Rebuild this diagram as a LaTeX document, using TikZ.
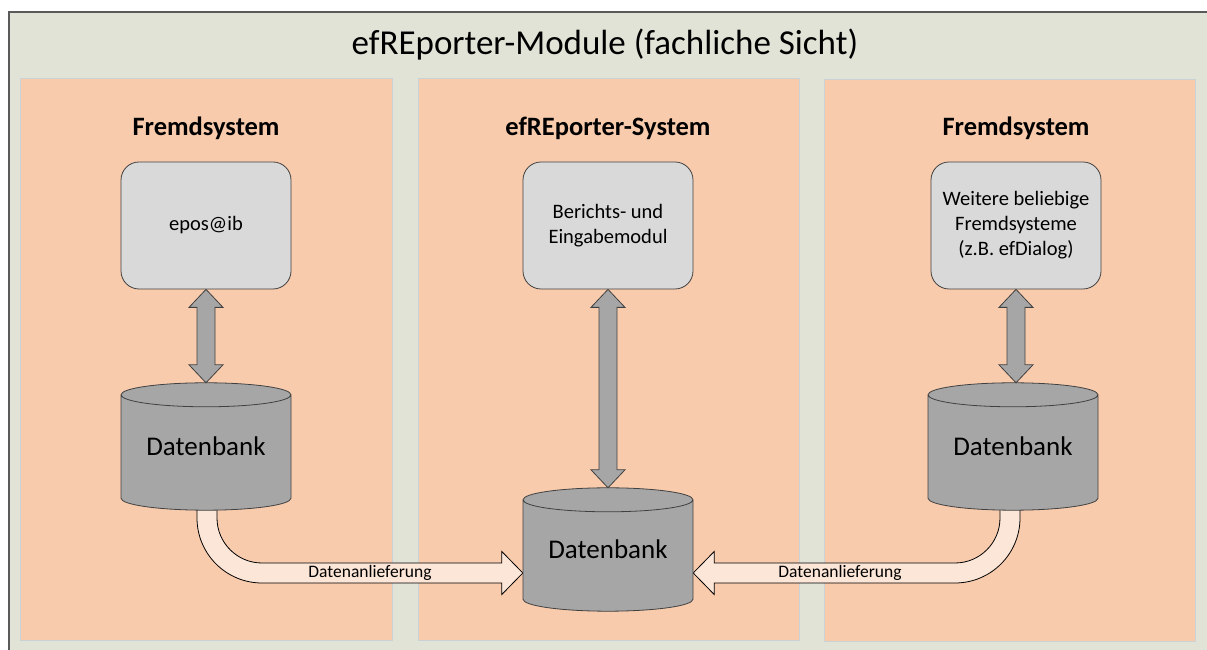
\documentclass[tikz,border=0pt]{standalone}
\usepackage{fontspec}
\setmainfont{Carlito}
\usetikzlibrary{calc}
\definecolor{framebg}{HTML}{E1E3D7}
\definecolor{frameline}{HTML}{5A5A5A}
\definecolor{panelfill}{HTML}{F8CBAD}
\definecolor{panelline}{HTML}{C9D3D6}
\definecolor{boxfill}{HTML}{D9D9D9}
\definecolor{dbgray}{HTML}{A6A6A6}
\definecolor{outl}{HTML}{404040}
\definecolor{flowfill}{HTML}{FCE6D8}
\pgfdeclarelayer{back}
\pgfdeclarelayer{mid}
\pgfdeclarelayer{cyl}
\pgfsetlayers{back,mid,cyl,main}
\tikzset{
  panel/.style={fill=panelfill, draw=panelline, line width=0.8pt},
  heading/.style={font=\fontsize{26.5}{30}\selectfont\bfseries},
  modbox/.style={draw=outl, fill=boxfill, line width=0.8pt, rounded corners=18pt,
    minimum width=170pt, minimum height=127pt, align=center,
    font=\fontsize{20.5}{25}\selectfont, inner sep=0pt},
  dbnode/.style={minimum width=170pt, inner sep=0pt, font=\fontsize{27}{30}\selectfont},
  dbshape/.style={fill=dbgray, draw=outl, line width=0.8pt},
  dblarrow/.style={fill=dbgray, draw=outl, line width=0.8pt, line join=miter},
  flowarrow/.style={fill=flowfill, draw=black, line width=0.8pt, line join=miter},
  flowlabel/.style={font=\fontsize{17.5}{20}\selectfont, inner sep=0pt}
}
\newcommand\drawdb[1]{%
  \path[dbshape] let \p1=(#1.north), \p2=(#1.south) in
    (\x1-85pt,\y1-12pt) -- (\x1-85pt,\y2+12pt)
    arc[start angle=180,end angle=360,x radius=85,y radius=12]
    -- (\x1+85pt,\y1-12pt)
    arc[start angle=0,end angle=180,x radius=85,y radius=12] -- cycle
    (\x1-85pt,\y1-12pt) arc[start angle=180,end angle=360,x radius=85,y radius=12];}
\newcommand\drawdbl[2]{%
  \path[dblarrow] let \p1=(#1.south), \p2=(#2.north) in
    (\x1,\y1) -- (\x1+17pt,\y1-18pt) -- (\x1+9pt,\y1-18pt) -- (\x1+9pt,\y2+18pt)
    -- (\x1+17pt,\y2+18pt) -- (\x1,\y2) -- (\x1-17pt,\y2+18pt) -- (\x1-9pt,\y2+18pt)
    -- (\x1-9pt,\y1-18pt) -- (\x1-17pt,\y1-18pt) -- cycle;}
\begin{document}
\begin{tikzpicture}[x=1pt,y=1pt]
\useasboundingbox (0,0) rectangle (1207,650);
\clip (0,0) rectangle (1207,650);
\begin{pgfonlayer}{back}
  \fill[white] (0,0) rectangle (1207,650);
  \path[fill=framebg, draw=frameline, line width=1.2pt] (9,638) rectangle (1230,-20);
  \path[panel] (20,572) rectangle (392,10);
  \path[panel] (418,572) rectangle (799,10);
  \path[panel] (824,571) rectangle (1195,9);
\end{pgfonlayer}

\node[font=\fontsize{35}{40}\selectfont] (title) at (605,605) {efREporter-Module (fachliche Sicht)};

\node[heading] (h1) at (206,522) {Fremdsystem};
\node[heading] (h2) at (608,522) {efREporter-System};
\node[heading] (h3) at (1016,522) {Fremdsystem};

\node[modbox] (box1) at (206,424.5) {epos@ib};
\node[modbox] (box2) at (608,424.5) {Berichts- und\\Eingabemodul};
\node[modbox] (box3) at (1016,424.5) {Weitere beliebige\\Fremdsysteme\\(z.B. efDialog)};

\node[dbnode, minimum height=127pt] (db1) at (206,203.5) {Datenbank};
\node[dbnode, minimum height=123pt] (dbm) at (608,100.5) {Datenbank};
\node[dbnode, minimum height=127pt] (db3) at (1013,203.5) {Datenbank};

\begin{pgfonlayer}{cyl}
  \drawdb{db1}
  \drawdb{dbm}
  \drawdb{db3}
\end{pgfonlayer}

\drawdbl{box1}{db1}
\drawdbl{box2}{dbm}
\drawdbl{box3}{db3}

\begin{pgfonlayer}{mid}
  \path[flowarrow] let \p1=(db1.south), \p2=(dbm.west) in
    (\x1-9pt,\y1+5pt) -- (\x1-9pt,\y2+31.5pt)
    arc[start angle=180,end angle=270,radius=65]
    -- (\x2-21pt,\y2-33.5pt) -- (\x2-21pt,\y2-45pt) -- (\x2,\y2-23.5pt)
    -- (\x2-21pt,\y2-2pt) -- (\x2-21pt,\y2-13.5pt) -- (\x1+56pt,\y2-13.5pt)
    arc[start angle=270,end angle=180,radius=45]
    -- (\x1+11pt,\y1+5pt) -- cycle;
  \path[flowarrow] let \p1=(db3.south), \p2=(dbm.east) in
    (\x1+7pt,\y1+5pt) -- (\x1+7pt,\y2+31.5pt)
    arc[start angle=0,end angle=-90,radius=65]
    -- (\x2+21pt,\y2-33.5pt) -- (\x2+21pt,\y2-45pt) -- (\x2,\y2-23.5pt)
    -- (\x2+21pt,\y2-2pt) -- (\x2+21pt,\y2-13.5pt) -- (\x1-58pt,\y2-13.5pt)
    arc[start angle=-90,end angle=0,radius=45]
    -- (\x1-13pt,\y1+5pt) -- cycle;
\end{pgfonlayer}

\node[flowlabel] (l1) at (370,77) {Datenanlieferung};
\node[flowlabel] (l2) at (840,77) {Datenanlieferung};
\end{tikzpicture}
\end{document}
